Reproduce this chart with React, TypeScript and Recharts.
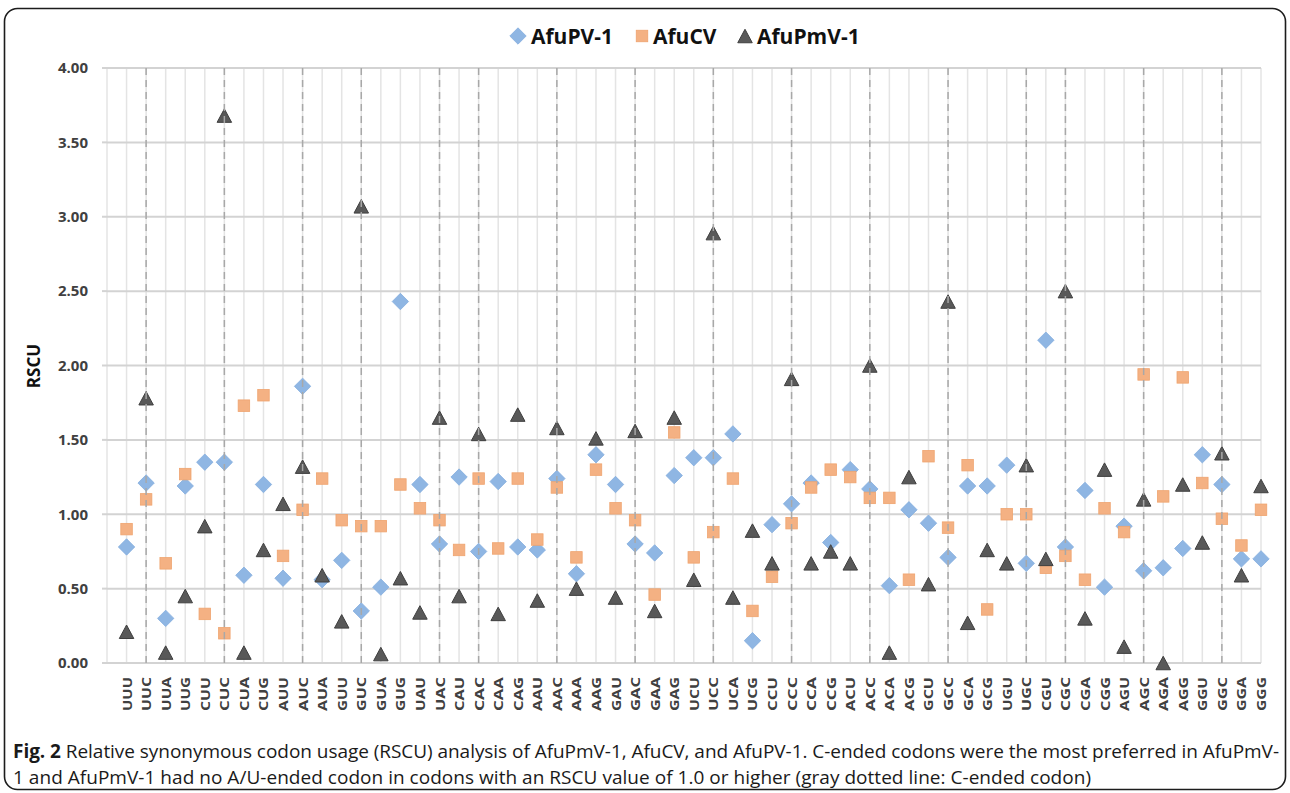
import React from 'react';
import {
  ScatterChart,
  Scatter,
  XAxis,
  YAxis,
  CartesianGrid,
  ReferenceLine,
} from 'recharts';

const codons = [
  'UUU', 'UUC', 'UUA', 'UUG', 'CUU', 'CUC', 'CUA', 'CUG', 'AUU', 'AUC',
  'AUA', 'GUU', 'GUC', 'GUA', 'GUG', 'UAU', 'UAC', 'CAU', 'CAC', 'CAA',
  'CAG', 'AAU', 'AAC', 'AAA', 'AAG', 'GAU', 'GAC', 'GAA', 'GAG', 'UCU',
  'UCC', 'UCA', 'UCG', 'CCU', 'CCC', 'CCA', 'CCG', 'ACU', 'ACC', 'ACA',
  'ACG', 'GCU', 'GCC', 'GCA', 'GCG', 'UGU', 'UGC', 'CGU', 'CGC', 'CGA',
  'CGG', 'AGU', 'AGC', 'AGA', 'AGG', 'GGU', 'GGC', 'GGA', 'GGG',
];

const afuPV1 = [
  0.78, 1.21, 0.30, 1.19, 1.35, 1.35, 0.59, 1.20, 0.57, 1.86,
  0.56, 0.69, 0.35, 0.51, 2.43, 1.20, 0.80, 1.25, 0.75, 1.22,
  0.78, 0.76, 1.24, 0.60, 1.40, 1.20, 0.80, 0.74, 1.26, 1.38,
  1.38, 1.54, 0.15, 0.93, 1.07, 1.21, 0.81, 1.30, 1.17, 0.52,
  1.03, 0.94, 0.71, 1.19, 1.19, 1.33, 0.67, 2.17, 0.78, 1.16,
  0.51, 0.92, 0.62, 0.64, 0.77, 1.40, 1.20, 0.70, 0.70,
];

const afuCV = [
  0.90, 1.10, 0.67, 1.27, 0.33, 0.20, 1.73, 1.80, 0.72, 1.03,
  1.24, 0.96, 0.92, 0.92, 1.20, 1.04, 0.96, 0.76, 1.24, 0.77,
  1.24, 0.83, 1.18, 0.71, 1.30, 1.04, 0.96, 0.46, 1.55, 0.71,
  0.88, 1.24, 0.35, 0.58, 0.94, 1.18, 1.30, 1.25, 1.11, 1.11,
  0.56, 1.39, 0.91, 1.33, 0.36, 1.00, 1.00, 0.64, 0.72, 0.56,
  1.04, 0.88, 1.94, 1.12, 1.92, 1.21, 0.97, 0.79, 1.03,
];

const afuPmV1 = [
  0.21, 1.78, 0.07, 0.45, 0.92, 3.68, 0.07, 0.76, 1.07, 1.32,
  0.59, 0.28, 3.07, 0.06, 0.57, 0.34, 1.65, 0.45, 1.54, 0.33,
  1.67, 0.42, 1.58, 0.50, 1.51, 0.44, 1.56, 0.35, 1.65, 0.56,
  2.89, 0.44, 0.89, 0.67, 1.91, 0.67, 0.75, 0.67, 2.00, 0.07,
  1.25, 0.53, 2.43, 0.27, 0.76, 0.67, 1.33, 0.70, 2.50, 0.30,
  1.30, 0.11, 1.10, 0.00, 1.20, 0.81, 1.41, 0.59, 1.19,
];

const yTicks = [0, 0.5, 1, 1.5, 2, 2.5, 3, 3.5, 4];
const seriesNames = ['AfuPV-1', 'AfuCV', 'AfuPmV-1'];
const captionBold = 'Fig. 2';
const captionLine1 =
  ' Relative synonymous codon usage (RSCU) analysis of AfuPmV-1, AfuCV, and AfuPV-1. C-ended codons were the most preferred in AfuPmV-';
const captionLine2 =
  '1 and AfuPmV-1 had no A/U-ended codon in codons with an RSCU value of 1.0 or higher (gray dotted line: C-ended codon)';

const BLUE = '#8FB6E3';
const ORANGE = '#F4B183';
const GRAY = '#595959';

const xTicks = [0, ...codons.map((_, i) => i + 1)];
const cEnded = codons
  .map((c, i) => (c.endsWith('C') ? i + 1 : null))
  .filter((v) => v !== null) as number[];

const toPoints = (arr: number[]) => arr.map((v, i) => ({ x: i + 1, y: v, codon: codons[i] }));
const pvData = toPoints(afuPV1);
const cvData = toPoints(afuCV);
const pmData = toPoints(afuPmV1);

const Diamond = (props: any) => {
  const { cx, cy } = props;
  if (cx == null || cy == null) return null;
  const r = 8.2;
  return (
    <polygon
      points={`${cx},${cy - r} ${cx + r},${cy} ${cx},${cy + r} ${cx - r},${cy}`}
      fill={BLUE}
      stroke="#84ADDE"
      strokeWidth={0.8}
    />
  );
};

const Square = (props: any) => {
  const { cx, cy } = props;
  if (cx == null || cy == null) return null;
  const s = 11.5;
  return (
    <rect x={cx - s / 2} y={cy - s / 2} width={s} height={s} fill={ORANGE} stroke="#EFA46F" strokeWidth={0.8} />
  );
};

const Triangle = (props: any) => {
  const { cx, cy } = props;
  if (cx == null || cy == null) return null;
  const w = 14.5;
  const h = 13.5;
  return (
    <polygon
      points={`${cx},${cy - h / 2} ${cx + w / 2},${cy + h / 2} ${cx - w / 2},${cy + h / 2}`}
      fill={GRAY}
      stroke="#3f3f3f"
      strokeWidth={1}
      strokeLinejoin="round"
    />
  );
};

const XTick = (props: any) => {
  const { x, y, payload } = props;
  const label = payload.value >= 1 ? codons[payload.value - 1] : '';
  if (!label) return null;
  return (
    <text
      transform={`translate(${x},${y + 14}) rotate(-90)`}
      textAnchor="end"
      dominantBaseline="central"
      fontFamily="'Open Sans', sans-serif"
      fontWeight={700}
      fontSize={13}
      fill="#404040"
      textLength={34}
      lengthAdjust="spacingAndGlyphs"
    >
      {label}
    </text>
  );
};

export default function App() {
  return (
    <div style={{ position: 'absolute', left: 0, top: 0, width: 1290, height: 793, background: '#fff' }}>
      <ScatterChart
        width={1290}
        height={793}
        margin={{ top: 68, right: 29, bottom: 60, left: 47 }}
      >
        <CartesianGrid horizontal={false} vertical stroke="#E4E4E4" strokeWidth={1.5} />
        <CartesianGrid horizontal vertical={false} stroke="#D3D3D3" strokeWidth={2} />
        <XAxis
          type="number"
          dataKey="x"
          domain={[0, 59]}
          ticks={xTicks}
          interval={0}
          height={70}
          tickLine={false}
          tickSize={0}
          tickMargin={0}
          axisLine={{ stroke: '#D3D3D3', strokeWidth: 2 }}
          tick={<XTick />}
        />
        <YAxis
          type="number"
          dataKey="y"
          domain={[0, 4]}
          ticks={yTicks}
          interval={0}
          width={60}
          axisLine={false}
          tickLine={{ stroke: '#D3D3D3', strokeWidth: 2 }}
          tickSize={5}
          tickMargin={14}
          tickFormatter={(v: number) => v.toFixed(2)}
          tick={{ fontFamily: "'Open Sans', sans-serif", fontWeight: 700, fontSize: 15, fill: '#404040' }}
        />
        <Scatter name={seriesNames[0]} data={pvData} shape={<Diamond />} isAnimationActive={false} />
        <Scatter name={seriesNames[1]} data={cvData} shape={<Square />} isAnimationActive={false} />
        <Scatter name={seriesNames[2]} data={pmData} shape={<Triangle />} isAnimationActive={false} />
        {cEnded.map((xv) => (
          <ReferenceLine
            key={xv}
            x={xv}
            stroke="#A8A8A8"
            strokeWidth={1.5}
            strokeDasharray="7 5"
            zIndex={700}
          />
        ))}
      </ScatterChart>
      <svg
        width={1290}
        height={793}
        style={{ position: 'absolute', left: 0, top: 0, pointerEvents: 'none' }}
        fontFamily="'Open Sans', sans-serif"
      >
        <rect x={4.5} y={8.5} width={1281} height={781} rx={13} ry={13} fill="none" stroke="#1c1c1c" strokeWidth={1.6} />
        {/* Legend */}
        <Diamond cx={518} cy={36} />
        <text x={531} y={43.5} fontSize={21} fontWeight={700} fill="#111">{seriesNames[0]}</text>
        <Square cx={642} cy={36} />
        <text x={653} y={43.5} fontSize={21} fontWeight={700} fill="#111">{seriesNames[1]}</text>
        <Triangle cx={745} cy={36} />
        <text x={757} y={43.5} fontSize={21} fontWeight={700} fill="#111">{seriesNames[2]}</text>
        {/* Y axis title */}
        <text
          transform="translate(33,366) rotate(-90)"
          textAnchor="middle"
          dominantBaseline="central"
          fontSize={17}
          fontWeight={700}
          fill="#111"
        >
          RSCU
        </text>
        {/* Caption */}
        <text x={13} y={758} fontSize={19} fill="#1a1a1a" textLength={1266} lengthAdjust="spacing">
          <tspan fontWeight={700}>{captionBold}</tspan>
          <tspan>{captionLine1}</tspan>
        </text>
        <text x={13} y={784} fontSize={19} fill="#1a1a1a" textLength={1078} lengthAdjust="spacing">
          {captionLine2}
        </text>
      </svg>
    </div>
  );
}
